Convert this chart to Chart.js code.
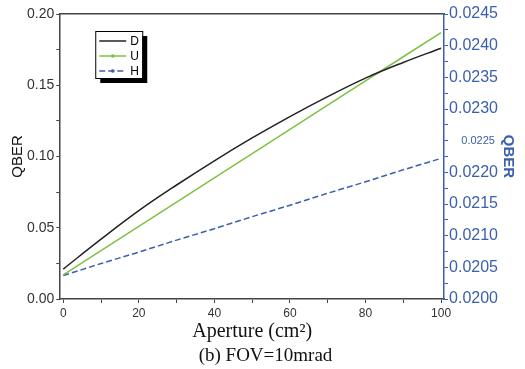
<!DOCTYPE html>
<html>
<head>
<meta charset="utf-8">
<script src="https://cdn.jsdelivr.net/npm/chart.js@4"></script>
<style>
  html, body { margin: 0; padding: 0; background: #fff; }
  #wrap { width: 525px; height: 369px; position: relative; }
</style>
</head>
<body>
<div id="wrap"><canvas id="grafico"></canvas></div>
<script>
// dados
const aperture = [0, 10, 20, 30, 40, 50, 60, 70, 80, 90, 100];
const qberD = [0.021, 0.042, 0.062, 0.080, 0.097, 0.113, 0.128, 0.142, 0.155, 0.166, 0.176];
const qberU = [0.017, 0.034, 0.051, 0.068, 0.085, 0.102, 0.119, 0.136, 0.153, 0.170, 0.187];
const qberH = [0.02037, 0.02056, 0.02074, 0.02093, 0.02111, 0.0213, 0.02148, 0.02167, 0.02185, 0.02204, 0.02222];

const azul = '#3a5fae';
const preto = '#222222';
const verde = '#7cc242';

// o rótulo 0.0225 aparece menor e deslocado no original
const ehMeio = (v) => Math.abs(v - 0.0225) < 1e-7;

// legenda desenhada dentro da área do gráfico, com sombra
const legendaBox = {
  id: 'legendaBox',
  afterDatasetsDraw(chart) {
    const { ctx, chartArea } = chart;
    const x = chartArea.left + 35, y = chartArea.top + 17, w = 47, h = 47;
    ctx.save();
    ctx.fillStyle = '#000';
    ctx.fillRect(x + 5, y + 5, w, h);
    ctx.fillStyle = '#fff';
    ctx.fillRect(x, y, w, h);
    ctx.strokeStyle = '#000';
    ctx.lineWidth = 1;
    ctx.strokeRect(x + 0.5, y + 0.5, w, h);
    chart.data.datasets.forEach((ds, i) => {
      const ly = y + 10 + i * 15;
      ctx.strokeStyle = ds.borderColor;
      ctx.lineWidth = 1.5;
      ctx.setLineDash(ds.borderDash || []);
      ctx.beginPath();
      ctx.moveTo(x + 4, ly);
      ctx.lineTo(x + 31, ly);
      ctx.stroke();
      ctx.setLineDash([]);
      if (i > 0) {
        ctx.fillStyle = ds.borderColor;
        ctx.beginPath();
        ctx.arc(x + 17.5, ly, 1.8, 0, Math.PI * 2);
        ctx.fill();
      }
      ctx.fillStyle = '#000';
      ctx.font = '12px "Liberation Sans", Arial, sans-serif';
      ctx.textBaseline = 'middle';
      ctx.fillText(ds.label, x + 35, ly + 1);
    });
    ctx.restore();
  }
};

const ctxQ = document.getElementById('grafico');
new Chart(ctxQ, {
  type: 'line',
  data: {
    labels: aperture,
    datasets: [
      { label: 'D', data: qberD, yAxisID: 'y', borderColor: preto, borderWidth: 1.5, pointRadius: 0, tension: 0.4 },
      { label: 'U', data: qberU, yAxisID: 'y', borderColor: verde, borderWidth: 1.5, pointRadius: 0, tension: 0 },
      { label: 'H', data: qberH, yAxisID: 'y2', borderColor: azul, borderWidth: 1.5, borderDash: [6, 3], pointRadius: 0, tension: 0 }
    ]
  },
  options: {
    responsive: true,
    maintainAspectRatio: false,
    animation: false,
    layout: { padding: { top: 14, left: 10, right: 4, bottom: 0 } },
    plugins: {
      legend: { display: false },
      tooltip: { enabled: false },
      title: {
        display: true,
        position: 'bottom',
        text: '(b) FOV=10mrad',
        color: '#111',
        font: { family: '"Liberation Serif", "Times New Roman", serif', size: 19, weight: 'normal', lineHeight: 1 },
        padding: { top: 2, bottom: 3 }
      }
    },
    scales: {
      x: {
        type: 'linear',
        min: -0.8,
        max: 100.8,
        afterBuildTicks: (s) => { s.ticks = aperture.map(v => ({ value: v })); },
        ticks: {
          autoSkip: false,
          maxRotation: 0,
          color: '#333',
          font: { family: '"Liberation Sans", Arial, sans-serif', size: 12, lineHeight: 1 },
          padding: 5,
          callback: (v) => (v % 20 === 0 ? v : '')
        },
        grid: { drawOnChartArea: false, tickLength: 4, color: '#444' },
        border: { color: '#444', width: 1.5 },
        title: {
          display: true,
          text: 'Aperture (cm²)',
          color: '#111',
          font: { family: '"Liberation Serif", "Times New Roman", serif', size: 20, lineHeight: 1 },
          padding: { top: -3, bottom: 3 }
        }
      },
      x2: {
        type: 'linear',
        position: 'top',
        min: -0.8,
        max: 100.8,
        ticks: { display: false },
        grid: { display: false, drawTicks: false },
        border: { display: true, color: '#444', width: 1.5 }
      },
      y: {
        position: 'left',
        min: 0,
        max: 0.2,
        ticks: {
          stepSize: 0.025,
          autoSkip: false,
          color: '#333',
          font: { family: '"Liberation Sans", Arial, sans-serif', size: 14 },
          padding: 2,
          callback: (v) => (Math.round(v / 0.025) % 2 === 0 ? v.toFixed(2) : '')
        },
        grid: { drawOnChartArea: false, tickLength: 4, color: '#444' },
        border: { color: '#444', width: 1.5 },
        title: {
          display: true,
          text: 'QBER',
          color: '#111',
          font: { family: '"Liberation Sans", Arial, sans-serif', size: 15, lineHeight: 1 },
          padding: { top: 0, bottom: 0 }
        }
      },
      y2: {
        position: 'right',
        min: 0.02,
        max: 0.0245,
        ticks: {
          stepSize: 0.00025,
          autoSkip: false,
          color: azul,
          font: (c) => ({
            family: '"Liberation Sans", Arial, sans-serif',
            size: c.tick && ehMeio(c.tick.value) ? 11 : 16
          }),
          padding: 1,
          callback: (v) => {
            if (Math.round(v / 0.00025) % 2 !== 0) return '';
            return ehMeio(v) ? '    ' + v.toFixed(4) : v.toFixed(4);
          }
        },
        grid: { drawOnChartArea: false, tickLength: 4, color: azul },
        border: { color: azul, width: 1.5 },
        title: {
          display: true,
          text: 'QBER',
          color: azul,
          font: { family: '"Liberation Sans", Arial, sans-serif', size: 15, weight: 'bold' },
          padding: { top: 4, bottom: 0 }
        }
      }
    }
  },
  plugins: [legendaBox]
});
</script>
</body>
</html>
